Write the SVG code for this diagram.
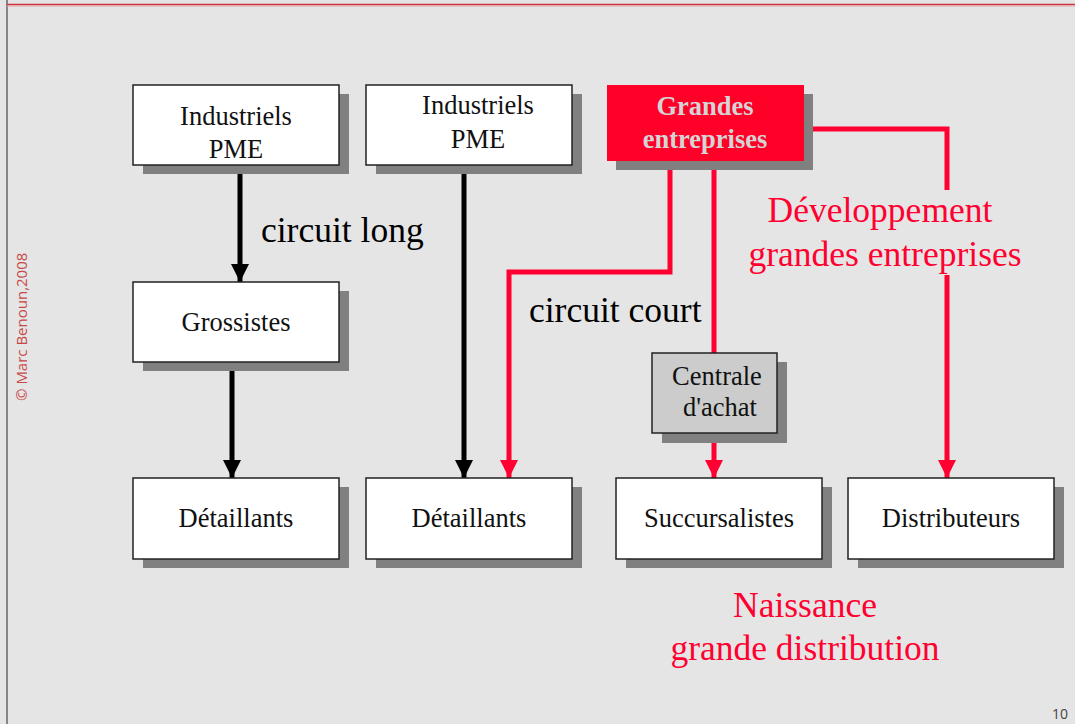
<svg xmlns="http://www.w3.org/2000/svg" width="1075" height="724" viewBox="0 0 1075 724">
<style>
.box{fill:#fff;stroke:#222;stroke-width:1.5}
.sh{fill:#808080}
.t{font-family:"Liberation Serif",serif;font-size:26.5px;fill:#111;text-anchor:middle}
.big{font-family:"Liberation Serif",serif;font-size:35.5px}
.blk{stroke:#000;stroke-width:5;fill:none}
.red{stroke:#ff0030;stroke-width:5;fill:none}
</style>
<defs>
<marker id="ab" markerUnits="userSpaceOnUse" markerWidth="18" markerHeight="18" refX="9" refY="18" viewBox="0 0 18 18"><path d="M0,0 L18,0 L9,18 Z" fill="#000"/></marker>
<marker id="ar" markerUnits="userSpaceOnUse" markerWidth="18" markerHeight="18" refX="9" refY="18" viewBox="0 0 18 18"><path d="M0,0 L18,0 L9,18 Z" fill="#ff0030"/></marker>
</defs>
<rect width="1075" height="724" fill="#e5e5e5"/>
<line x1="7" y1="0" x2="7" y2="724" stroke="#666" stroke-width="1.5"/>
<line x1="7" y1="4.5" x2="1075" y2="4.5" stroke="#cc3340" stroke-width="1.5"/>
<line x1="7" y1="6" x2="1075" y2="6" stroke="#e8a0a0" stroke-width="1"/>
<text transform="translate(27,401) rotate(-90)" font-family="'Open Sans','DejaVu Sans',sans-serif" font-size="15" fill="#c84848">© Marc Benoun,2008</text>
<text x="1068" y="719" font-family="'Open Sans','DejaVu Sans',sans-serif" font-size="14" fill="#444" text-anchor="end">10</text>

<g id="connectors">
<line class="blk" x1="240" y1="174" x2="240" y2="282" marker-end="url(#ab)"/>
<line class="blk" x1="232" y1="371" x2="232" y2="478" marker-end="url(#ab)"/>
<line class="blk" x1="464" y1="174" x2="464" y2="478" marker-end="url(#ab)"/>
<polyline class="red" points="670,170 670,272 509,272 509,478" marker-end="url(#ar)"/>
<line class="red" x1="714" y1="170" x2="714" y2="353"/>
<line class="red" x1="714" y1="443" x2="714" y2="478" marker-end="url(#ar)"/>
<polyline class="red" points="813,129 947,129 947,190"/>
<line class="red" x1="947" y1="275" x2="947" y2="478" marker-end="url(#ar)"/>
</g>

<g id="n-ind1"><rect class="sh" x="143" y="94" width="206" height="80"/><rect class="box" x="133" y="85" width="206" height="80"/><text class="t" x="236" y="125">Industriels</text><text class="t" x="236" y="158">PME</text></g>
<g id="n-ind2"><rect class="sh" x="376" y="94" width="206" height="80"/><rect class="box" x="366" y="85" width="206" height="80"/><text class="t" x="478" y="114">Industriels</text><text class="t" x="478" y="148">PME</text></g>
<g id="n-ge"><rect class="sh" x="616" y="94" width="197" height="76"/><rect x="607" y="85" width="197" height="76" fill="#ff0028"/><text class="t" x="705" y="115" font-weight="bold" style="fill:#d4d4d4">Grandes</text><text class="t" x="705" y="148" font-weight="bold" style="fill:#d4d4d4">entreprises</text></g>
<g id="n-gros"><rect class="sh" x="143" y="291" width="206" height="80"/><rect class="box" x="133" y="282" width="206" height="80"/><text class="t" x="236" y="331">Grossistes</text></g>
<g id="n-centrale"><rect class="sh" x="662" y="362" width="125" height="81"/><rect class="box" x="652" y="353" width="125" height="80" style="fill:#cccccc"/><text class="t" x="717" y="385">Centrale</text><text class="t" x="720" y="416">d'achat</text></g>
<g id="n-det1"><rect class="sh" x="143" y="487" width="206" height="81"/><rect class="box" x="133" y="478" width="206" height="81"/><text class="t" x="236" y="527">Détaillants</text></g>
<g id="n-det2"><rect class="sh" x="376" y="487" width="206" height="81"/><rect class="box" x="366" y="478" width="206" height="81"/><text class="t" x="469" y="527">Détaillants</text></g>
<g id="n-succ"><rect class="sh" x="626" y="487" width="206" height="81"/><rect class="box" x="616" y="478" width="206" height="81"/><text class="t" x="719" y="527">Succursalistes</text></g>
<g id="n-dist"><rect class="sh" x="858" y="487" width="206" height="81"/><rect class="box" x="848" y="478" width="206" height="81"/><text class="t" x="951" y="527">Distributeurs</text></g>

<text class="big" x="261" y="242" fill="#000">circuit long</text>
<text class="big" x="529" y="322" fill="#000">circuit court</text>
<text class="big" x="880" y="222" fill="#ff0030" text-anchor="middle">Développement</text>
<text class="big" x="885" y="266" fill="#ff0030" text-anchor="middle">grandes entreprises</text>
<text class="big" x="805" y="617" fill="#ff0030" text-anchor="middle">Naissance</text>
<text class="big" x="805" y="660" fill="#ff0030" text-anchor="middle">grande distribution</text>
</svg>
